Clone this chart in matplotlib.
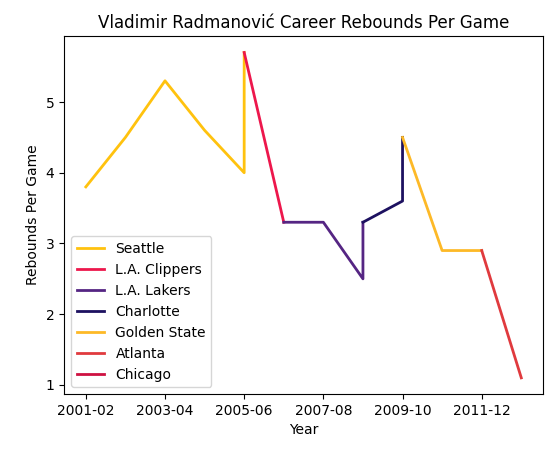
import matplotlib
matplotlib.use("Agg")
import matplotlib.pyplot as plt

seasons = ["2001-02", "2002-03", "2003-04", "2004-05", "2005-06", "2006-07",
           "2007-08", "2008-09", "2009-10", "2010-11", "2011-12", "2012-13"]

# each team: season indices and rebounds, joined to the next team's first point
teams = ["Seattle", "L.A. Clippers", "L.A. Lakers", "Charlotte",
         "Golden State", "Atlanta", "Chicago"]
team_x = [[0, 1, 2, 3, 4, 4], [4, 5], [5, 6, 7, 7], [7, 8, 8],
          [8, 9, 10], [10, 11], [11]]
team_y = [[3.8, 4.5, 5.3, 4.6, 4.0, 5.7], [5.7, 3.3], [3.3, 3.3, 2.5, 3.3],
          [3.3, 3.6, 4.5], [4.5, 2.9, 2.9], [2.9, 1.1], [1.1]]
colors = ["#FFC20E", "#ED174C", "#552583", "#1D1160", "#FDB927",
          "#E03A3E", "#CE1141"]

fig, ax = plt.subplots(figsize=(5.57, 4.53), dpi=100)
for name, xs, ys, c in zip(teams, team_x, team_y, colors):
    ax.plot(xs, ys, color=c, lw=2, label=name)

ax.set_xticks(range(0, len(seasons), 2))
ax.set_xticklabels(seasons[::2])
ax.set_xlim(-0.55, 11.55)
ax.set_xlabel("Year")
ax.set_ylabel("Rebounds Per Game")
ax.set_title("Vladimir Radmanović Career Rebounds Per Game")
ax.legend(loc="lower left")
fig.subplots_adjust(left=0.115, right=0.975, top=0.92, bottom=0.13)
fig.savefig("out.png")
